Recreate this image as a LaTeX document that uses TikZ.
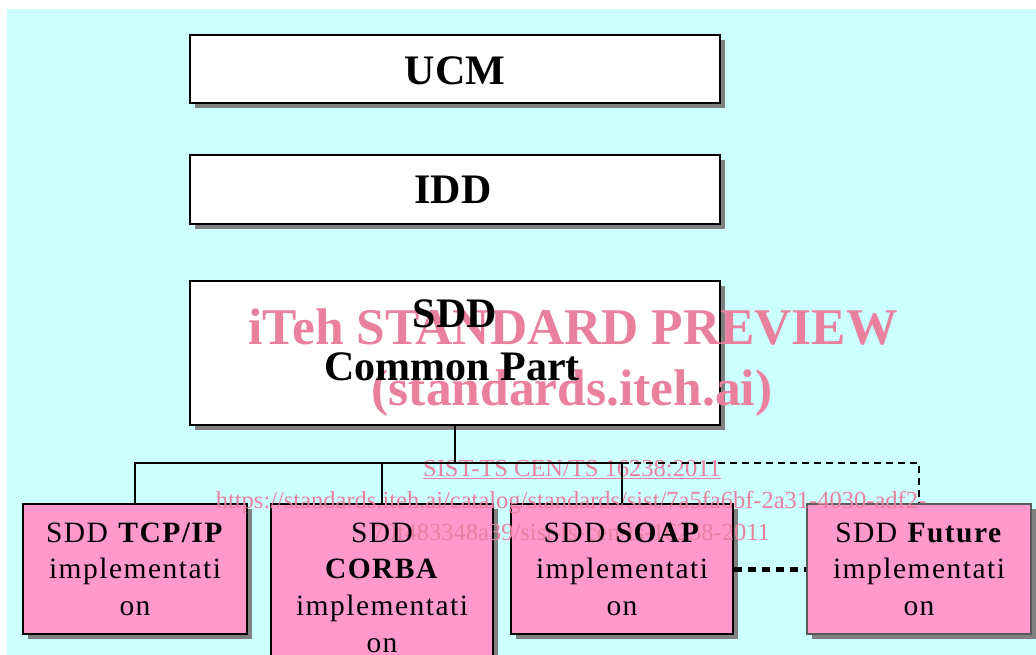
\documentclass[tikz,border=0pt]{standalone}
\usepackage{fontspec}
\setmainfont{Liberation Serif}
\newfontfamily\spacedserif[LetterSpace=5]{Liberation Serif}
\usetikzlibrary{shadows}
\definecolor{bgcyan}{RGB}{204,255,255}
\definecolor{boxpink}{RGB}{255,153,204}
\definecolor{wmpink}{RGB}{232,128,158}
\tikzset{
  plainbox/.style={draw=black, line width=1.5pt, inner sep=0pt, fill=white,
    drop shadow={shadow xshift=5pt, shadow yshift=-5pt, fill=black!50, opacity=1}},
  implbox/.style={plainbox, fill=boxpink},
  titletext/.style={anchor=base, inner sep=0pt, font=\fontsize{42}{48}\selectfont\bfseries},
  boxtext/.style={anchor=base, inner sep=0pt, font=\spacedserif\fontsize{29.5}{36}\selectfont},
  wmbig/.style={anchor=base, inner sep=0pt, text=wmpink, font=\fontsize{51.5}{56}\selectfont\bfseries},
  wmsmall/.style={anchor=base, inner sep=0pt, text=wmpink, font=\fontsize{24.5}{30}\selectfont},
  link/.style={draw=black, line width=1.5pt},
  futurelink/.style={draw=black, line width=1.5pt, dash pattern=on 7pt off 5pt},
  dotlink/.style={draw=black, line width=5pt, dash pattern=on 8pt off 6pt}
}
\begin{document}
\begin{tikzpicture}[x=1pt,y=-1pt]
\useasboundingbox (0,0) rectangle (1036,655);
\clip (0,0) rectangle (1036,655);
\fill[white] (0,0) rectangle (1036,655);
\fill[bgcyan] (7,9) rectangle (1036,655);

% boxes
\node[plainbox, minimum width=530pt, minimum height=68pt] (ucm) at (455,69) {};
\node[plainbox, minimum width=530pt, minimum height=69pt] (idd) at (455,189.5) {};
\node[plainbox, minimum width=530pt, minimum height=144pt] (sdd) at (455,353) {};
\node[implbox, minimum width=224pt, minimum height=130pt] (tcp) at (135,569) {};
\node[implbox, minimum width=222pt, minimum height=170pt] (corba) at (382,589) {};
\node[implbox, minimum width=222pt, minimum height=130pt] (soap) at (622,569) {};
\node[implbox, draw=black!65, minimum width=224pt, minimum height=130pt] (future) at (919,569) {};

% watermark
\node[wmbig] (wm1) at (573,344) {iTeh STANDARD PREVIEW};
\node[wmbig] (wm2) at (572,405) {(standards.iteh.ai)};
\node[wmsmall] (wm3) at (572,476) {\underline{SIST-TS CEN/TS 16238:2011}};
\node[wmsmall] (wm4) at (571,508) {https://standards.iteh.ai/catalog/standards/sist/7a5fa6bf-2a31-4030-adf2-};
\node[wmsmall] (wm5) at (571,540) {70f483348a39/sist-ts-cen-ts-16238-2011};

% connectors
\coordinate (j) at (455,463);
\draw[link] (sdd.south) -- (j);
\draw[link] (tcp.north) |- (j);
\draw[link] (corba.north) -- (corba.north |- j);
\draw[link] (j) -| (soap.north);
\draw[futurelink] (soap.north |- j) -| (future.north);
\draw[dotlink] (soap.east) -- (future.west);

% texts
\node[titletext] (tucm) at (455,85) {UCM};
\node[titletext] (tidd) at (453,204) {IDD};
\node[titletext] (tsdd1) at (455,327) {SDD};
\node[titletext] (tsdd2) at (452,380) {Common Part};

\node[boxtext] (ttcp1) at (135,542) {SDD \textbf{TCP/IP}};
\node[boxtext] (ttcp2) at (135,578) {implementati};
\node[boxtext] (ttcp3) at (135,615) {on};

\node[boxtext] (tcor1) at (382,542) {SDD};
\node[boxtext] (tcor2) at (382,578) {\textbf{CORBA}};
\node[boxtext] (tcor3) at (382,615) {implementati};
\node[boxtext] (tcor4) at (382,652) {on};

\node[boxtext] (tsoap1) at (622,542) {SDD \textbf{SOAP}};
\node[boxtext] (tsoap2) at (622,578) {implementati};
\node[boxtext] (tsoap3) at (622,615) {on};

\node[boxtext] (tfut1) at (919,542) {SDD \textbf{Future}};
\node[boxtext] (tfut2) at (919,578) {implementati};
\node[boxtext] (tfut3) at (919,615) {on};
\end{tikzpicture}
\end{document}
